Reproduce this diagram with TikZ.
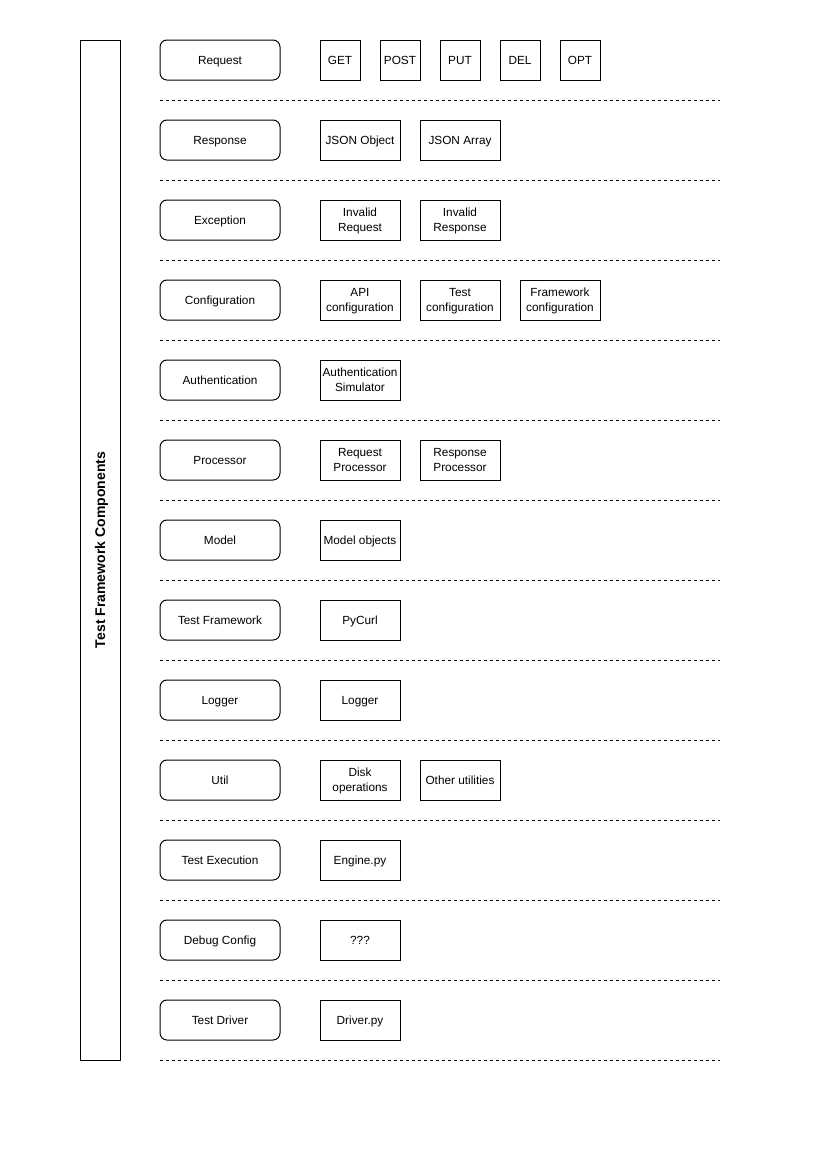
\documentclass[tikz,border=0pt]{standalone}
\usepackage{fontspec}
\setmainfont{Liberation Sans}
\usetikzlibrary{positioning}

\begin{document}
\begin{tikzpicture}[x=0.72pt,y=-0.72pt,line width=0.72pt,
                    node distance=14.4pt,
                    every node/.style={font=\fontsize{8.5}{10.8}\selectfont,align=center,
                                       inner sep=0pt,outer sep=0pt,text depth=0pt},
                    group/.style={draw,rounded corners=5pt,minimum width=86.4pt,minimum height=28.8pt},
                    item/.style={draw,minimum width=57.6pt,minimum height=28.8pt},
                    verb/.style={draw,minimum width=28.8pt,minimum height=28.8pt},
                    sep/.style={dash pattern=on 2.16pt off 2.16pt}]
  \useasboundingbox (0,0) rectangle (827,1169);

  % side bar
  \node[draw,rotate=90,minimum width=734.4pt,minimum height=28.8pt,
        font=\fontsize{10.1}{12}\selectfont\bfseries] (side) at (100,550) {Test Framework Components};

  % rows
  \node[group] (request)  at (220,60)  {Request};
  \node[verb]  (get)  [right=28.8pt of request] {GET};
  \node[verb]  (post) [right=of get]  {POST};
  \node[verb]  (put)  [right=of post] {PUT};
  \node[verb]  (del)  [right=of put]  {DEL};
  \node[verb]  (opt)  [right=of del]  {OPT};

  \node[group] (response) at (220,140) {Response};
  \node[item]  (jobj) [right=28.8pt of response] {JSON Object};
  \node[item]  (jarr) [right=of jobj] {JSON Array};

  \node[group] (exception) at (220,220) {Exception};
  \node[item]  (invreq) [right=28.8pt of exception] {Invalid\\Request};
  \node[item]  (invres) [right=of invreq] {Invalid\\Response};

  \node[group] (config) at (220,300) {Configuration};
  \node[item]  (apiconf)  [right=28.8pt of config] {API\\configuration};
  \node[item]  (testconf) [right=of apiconf] {Test\\configuration};
  \node[item]  (fwconf)   [right=of testconf] {Framework\\configuration};

  \node[group] (auth) at (220,380) {Authentication};
  \node[item]  (authsim) [right=28.8pt of auth] {Authentication\\Simulator};

  \node[group] (processor) at (220,460) {Processor};
  \node[item]  (reqproc) [right=28.8pt of processor] {Request\\Processor};
  \node[item]  (resproc) [right=of reqproc] {Response\\Processor};

  \node[group] (model) at (220,540) {Model};
  \node[item]  (modobj) [right=28.8pt of model] {Model objects};

  \node[group] (testfw) at (220,620) {Test Framework};
  \node[item]  (pycurl) [right=28.8pt of testfw] {PyCurl};

  \node[group] (logger) at (220,700) {Logger};
  \node[item]  (logimpl) [right=28.8pt of logger] {Logger};

  \node[group] (util) at (220,780) {Util};
  \node[item]  (diskops) [right=28.8pt of util] {Disk\\operations};
  \node[item]  (otherutil) [right=of diskops] {Other utilities};

  \node[group] (testexec) at (220,860) {Test Execution};
  \node[item]  (engine) [right=28.8pt of testexec] {Engine.py};

  \node[group] (debugconf) at (220,940) {Debug Config};
  \node[item]  (unknown) [right=28.8pt of debugconf] {???};

  \node[group] (testdrv) at (220,1020) {Test Driver};
  \node[item]  (driver) [right=28.8pt of testdrv] {Driver.py};

  % separators
  \foreach \y in {100,180,...,1060}
    \draw[sep] (160,\y) -- (720,\y);
\end{tikzpicture}
\end{document}
